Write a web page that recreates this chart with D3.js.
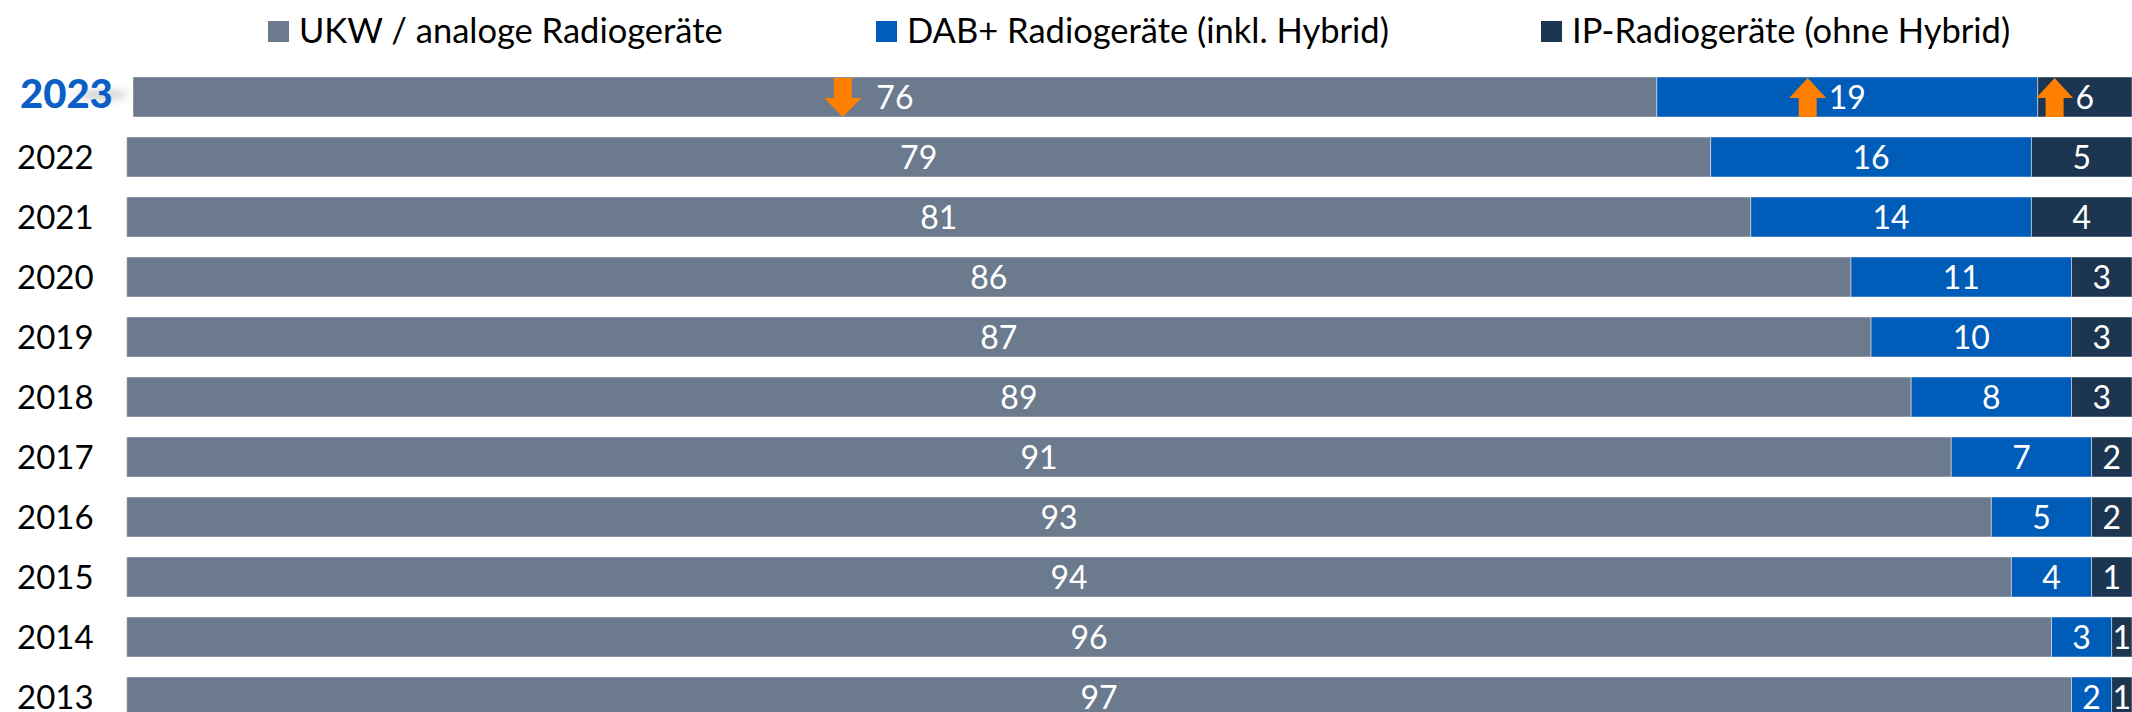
<!DOCTYPE html>
<html>
<head>
<meta charset="utf-8">
<script src="https://cdn.jsdelivr.net/npm/d3@7"></script>
<style>
  html, body { margin: 0; padding: 0; background: #fff; overflow: hidden; }
  svg { display: block; font-family: Lato, "Open Sans", sans-serif; }
</style>
</head>
<body>
<div id="chart"></div>
<script>
// Daten
const jahre = ["2023", "2022", "2021", "2020", "2019", "2018", "2017", "2016", "2015", "2014", "2013"];
const ukw = [76, 79, 81, 86, 87, 89, 91, 93, 94, 96, 97];
const dab = [19, 16, 14, 11, 10, 8, 7, 5, 4, 3, 2];
const ip  = [6, 5, 4, 3, 3, 3, 2, 2, 1, 1, 1];
const serien = ["UKW / analoge Radiogeräte", "DAB+ Radiogeräte (inkl. Hybrid)", "IP-Radiogeräte (ohne Hybrid)"];
// Veränderung 2023 ggü. Vorjahr (Pfeile)
const trend2023 = ["down", "up", "up"];

const farben = ["#6b7b8d", "#005cb9", "#1c3550"];
const orange = "#ff7f00";

const W = 2132, H = 712;
const svg = d3.select("#chart").append("svg")
    .attr("width", W).attr("height", H);

const defs = svg.append("defs");
const grad = defs.append("linearGradient").attr("id", "refl").attr("x1", 0).attr("y1", 0).attr("x2", 0).attr("y2", 1);
grad.append("stop").attr("offset", "0%").attr("stop-color", "#fff").attr("stop-opacity", 1);
grad.append("stop").attr("offset", "75%").attr("stop-color", "#fff").attr("stop-opacity", 0);
defs.append("mask").attr("id", "reflMask").attr("maskContentUnits", "userSpaceOnUse")
    .append("rect").attr("x", 0).attr("y", 108).attr("width", 140).attr("height", 24).attr("fill", "url(#refl)");
defs.append("filter").attr("id", "blur").attr("x", "-50%").attr("y", "-100%").attr("width", "200%").attr("height", "300%")
    .append("feGaussianBlur").attr("stdDeviation", 4);

const links = 126.7;
const x = d3.scaleLinear().domain([0, 100]).range([0, 2005]);
// 40 px Balken, 60 px Zeilenabstand
const y = d3.scaleBand().domain(jahre).range([77, 717]).paddingInner(1 / 3).paddingOuter(0);
const bh = y.bandwidth();

const daten = jahre.map((j, i) => {
    const werte = [ukw[i], dab[i], ip[i]];
    let cum = 0;
    const start = i === 0 ? 133 : links;
    return werte.map((v, k) => {
        let x1 = start + x(cum + v);
        if (k === 2) x1 = W; // letzter Abschnitt läuft bis zum Rand
        const s = { jahr: j, serie: k, wert: v, x0: start + x(cum), x1: x1 };
        cum += v;
        return s;
    });
});

// Legende
const legX = [268, 876, 1541];
const leg = svg.append("g");
serien.forEach((s, k) => {
    leg.append("rect").attr("x", legX[k]).attr("y", 21).attr("width", 21).attr("height", 21).attr("fill", farben[k]);
    leg.append("text").attr("x", legX[k] + 31).attr("y", 43)
        .attr("font-size", 34.5).attr("fill", "#000").text(s);
});

// Balken
const zeilen = svg.append("g").selectAll("g").data(daten).join("g")
    .attr("transform", d => "translate(0," + y(d[0].jahr) + ")");

zeilen.selectAll("rect").data(d => d).join("rect")
    .attr("x", d => d.x0)
    .attr("width", d => d.x1 - d.x0)
    .attr("y", 0)
    .attr("height", bh)
    .attr("fill", d => farben[d.serie])
    .attr("stroke", "rgba(255,255,255,0.45)")
    .attr("stroke-width", 1);

const labels = zeilen.selectAll("text.wert").data(d => d).join("text")
    .attr("class", "wert")
    .attr("x", d => (d.x0 + d.x1) / 2)
    .attr("y", bh / 2 + 11.5)
    .attr("text-anchor", "middle")
    .attr("font-size", 32)
    .attr("fill", "#fff")
    .text(d => d.wert);

// Pfeile 2023
const pfeil = svg.append("g").attr("transform", "translate(0," + y("2023") + ")");
labels.filter(d => d.jahr === "2023").each(function(d) {
    const tw = this.getComputedTextLength();
    const lx = +d3.select(this).attr("x");
    const dir = trend2023[d.serie];
    const gap = dir === "down" ? 15 : 2.5;
    const cx = lx - tw / 2 - gap - 18.5;
    const p = d3.path();
    if (dir === "down") {
        p.moveTo(cx - 9, 1); p.lineTo(cx + 9, 1); p.lineTo(cx + 9, 21);
        p.lineTo(cx + 18.5, 21); p.lineTo(cx, bh); p.lineTo(cx - 18.5, 21); p.lineTo(cx - 9, 21);
    } else {
        p.moveTo(cx, 1); p.lineTo(cx + 18.5, 21); p.lineTo(cx + 9, 21); p.lineTo(cx + 9, bh);
        p.lineTo(cx - 9, bh); p.lineTo(cx - 9, 21); p.lineTo(cx - 18.5, 21);
    }
    p.closePath();
    pfeil.append("path").attr("d", p.toString()).attr("fill", orange);
});

// Jahreslabels
const yl = svg.append("g");
jahre.forEach((j, i) => {
    const cy = y(j) + bh / 2;
    if (i === 0) {
        // Schatten (weicher grauer Wisch rechts) + Spiegelung
        yl.append("ellipse").attr("cx", 102).attr("cy", cy - 2).attr("rx", 26).attr("ry", 4)
            .attr("fill", "#a0a0a0").attr("opacity", 0.6).attr("filter", "url(#blur)");
        yl.append("text").attr("id", "y2023").attr("x", 20).attr("y", cy + 11)
            .attr("font-size", 40).attr("font-weight", 900).attr("fill", "#0a5ec6")
            .text(j);
        yl.append("use").attr("href", "#y2023")
            .attr("transform", "translate(0," + (2 * (cy + 11)) + ") scale(1,-1)")
            .attr("opacity", 0.6).attr("mask", "url(#reflMask)");
    } else {
        yl.append("text").attr("x", 17).attr("y", cy + 12)
            .attr("font-size", 33).attr("fill", "#000").text(j);
    }
});
</script>
</body>
</html>
